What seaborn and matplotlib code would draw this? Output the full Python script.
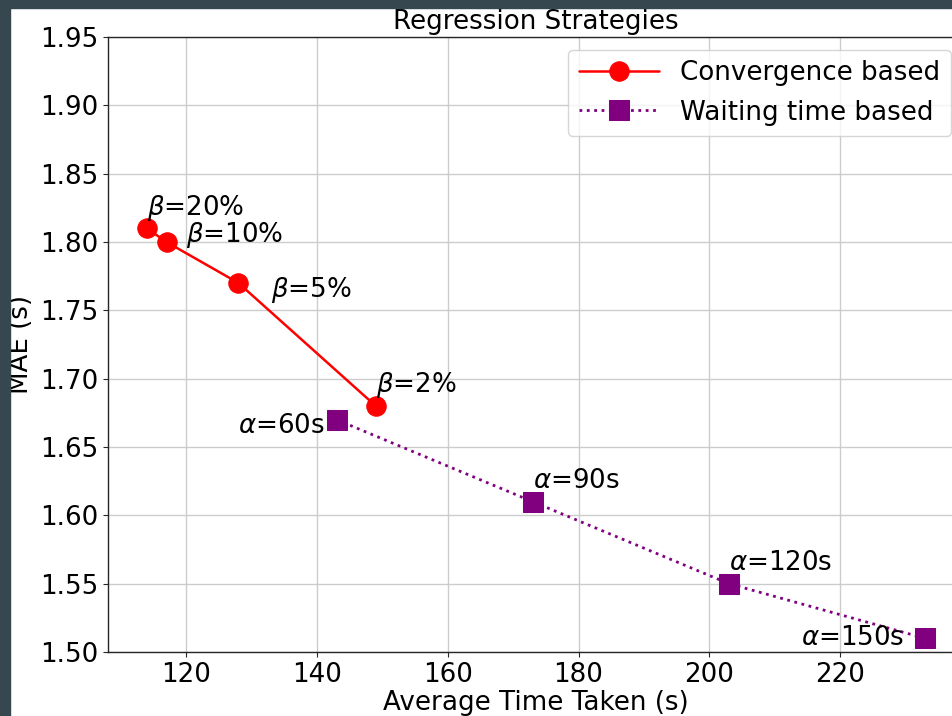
import matplotlib
matplotlib.use("Agg")
import matplotlib.pyplot as plt
from matplotlib.patches import Rectangle
import seaborn as sns

# Convergence-based strategy (beta thresholds)
conv_time = [114, 117, 128, 149]
conv_mae = [1.81, 1.80, 1.77, 1.68]
conv_labels = [r"$\beta$=20%", r"$\beta$=10%", r"$\beta$=5%", r"$\beta$=2%"]

# Waiting-time-based strategy (alpha timeouts)
wait_time = [143, 173, 203, 233]
wait_mae = [1.67, 1.61, 1.55, 1.51]
wait_labels = [r"$\alpha$=60s", r"$\alpha$=90s", r"$\alpha$=120s", r"$\alpha$=150s"]

# label offsets (data units) relative to each point
conv_offsets = [(0, 0.01), (3, 0.0), (5, -0.01), (0, 0.01)]
wait_offsets = [(-15, -0.01), (0, 0.01), (0, 0.01), (-19, -0.005)]

FS = 18.8

sns.set_style("whitegrid", {
    "axes.edgecolor": "0.15",
    "grid.color": "#cccccc",
    "xtick.bottom": True,
    "ytick.left": True,
    "text.color": "black",
    "axes.labelcolor": "black",
})
plt.rcParams.update({
    "font.size": FS,
    "xtick.major.size": 3.5,
    "ytick.major.size": 3.5,
    "xtick.major.width": 0.8,
    "ytick.major.width": 0.8,
    "xtick.color": "0.15",
    "ytick.color": "0.15",
    "xtick.labelcolor": "black",
    "ytick.labelcolor": "black",
    "axes.linewidth": 1.0,
})
plt.rcParams["font.family"] = ["DejaVu Sans"]

fig = plt.figure(figsize=(9.53, 7.16), dpi=100)
ax = fig.add_axes([108 / 953, 64 / 716, 856 / 953, 615 / 716])

sns.lineplot(x=conv_time, y=conv_mae, ax=ax, color="red", marker="o",
             markersize=14, markeredgecolor="red", linewidth=1.8,
             sort=False, label="Convergence based")
sns.lineplot(x=wait_time, y=wait_mae, ax=ax, color="purple", marker="s",
             markersize=14, markeredgecolor="purple", linewidth=2,
             linestyle=":", sort=False, label="Waiting time based")

for x, y, t, (dx, dy) in zip(conv_time, conv_mae, conv_labels, conv_offsets):
    ax.text(x + dx, y + dy, t, fontsize=FS, color="black")
for x, y, t, (dx, dy) in zip(wait_time, wait_mae, wait_labels, wait_offsets):
    ax.text(x + dx, y + dy, t, fontsize=FS, color="black")

ax.set_ylim(1.50, 1.95)
ax.set_yticks([1.50, 1.55, 1.60, 1.65, 1.70, 1.75, 1.80, 1.85, 1.90, 1.95])
ax.set_xticks([120, 140, 160, 180, 200, 220])
ax.tick_params(labelsize=FS)
ax.set_xlabel("Average Time Taken (s)", fontsize=FS, labelpad=2, color="black")
ax.set_ylabel("MAE (s)", fontsize=FS, labelpad=4, color="black")
ax.set_title("Regression Strategies", fontsize=FS, pad=6, color="black")
ax.grid(True, color="#cccccc", linewidth=1)

leg = ax.legend(loc="upper right", fontsize=FS, frameon=True, framealpha=0.8,
                edgecolor="#cccccc", fancybox=True, handlelength=3.1)
for txt in leg.get_texts():
    txt.set_color("black")

# dark frame along the left and top edges
fig.patches.append(Rectangle((0, 0), 10 / 953, 1, transform=fig.transFigure,
                             color="#37474f", zorder=10))
fig.patches.append(Rectangle((0, 1 - 8 / 716), 1, 8 / 716, transform=fig.transFigure,
                             color="#37474f", zorder=10))

fig.savefig("out.png", dpi=100)
